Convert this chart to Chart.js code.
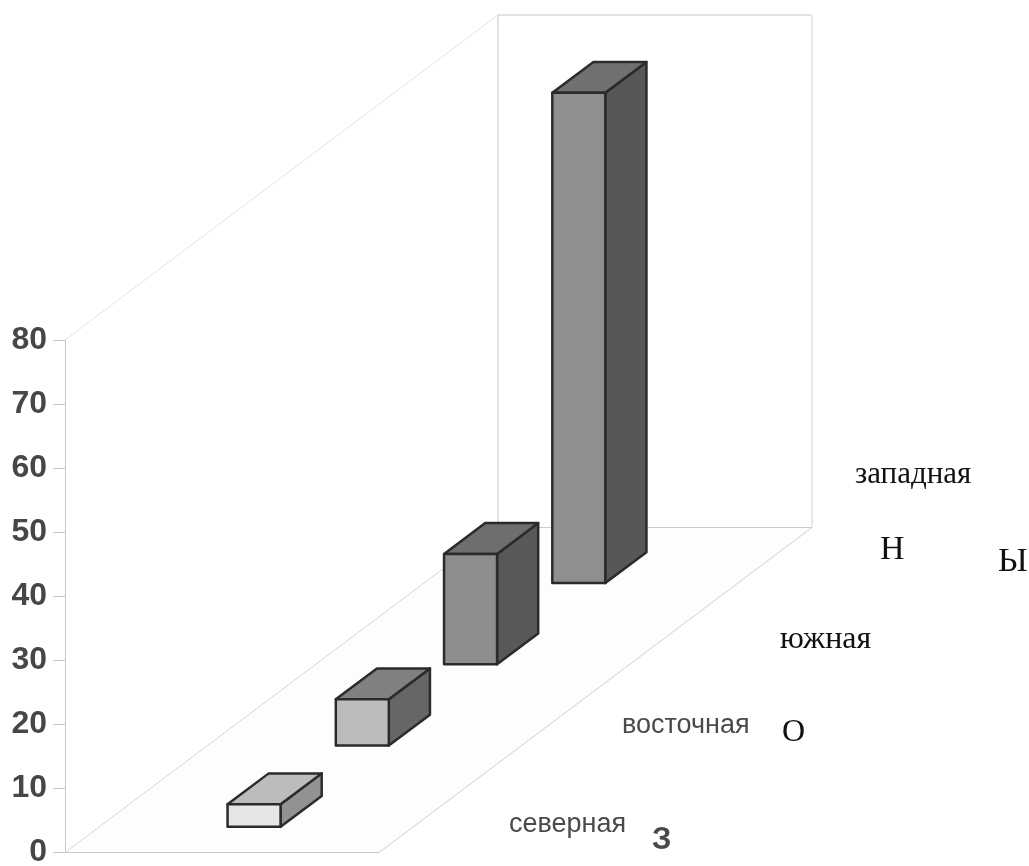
<!DOCTYPE html>
<html>
<head>
<meta charset="utf-8">
<style>
    html, body { margin: 0; padding: 0; background: #fff; }
    canvas { display: block; }
</style>
<script src="https://cdn.jsdelivr.net/npm/chart.js@4"></script>
</head>
<body>
<canvas id="c" width="1029" height="866"></canvas>
<script>
(function(){

    "use strict"

    // data
    const categories = ["северная", "восточная", "южная", "западная"];
    const values = [3.6, 7.3, 17.3, 76.6];
    const yTicks = [0, 10, 20, 30, 40, 50, 60, 70, 80];
    const axisLetters = ["З", "О", "Н", "Ы"];

    // face colours, front to back
    const frontColors = ["#e6e6e6", "#bcbcbc", "#8e8e8e", "#8f8f8f"];
    const topColors = ["#bcbcbc", "#808080", "#6e6e6e", "#707070"];
    const sideColors = ["#929292", "#666666", "#585858", "#575757"];

    // oblique projection: how far the floor runs and how the bars sit on it
    const floorWidth = 314;
    const barInset = 129;
    const barWidth = 53;
    const riseTotal = 325;

    // text that sits around the floor, same order as the arrays above
    const categorySpots = [
        { x: 509, y: 832, font: "27px 'Liberation Sans'", color: "#4a4a4a" },
        { x: 622, y: 733, font: "27px 'Liberation Sans'", color: "#4a4a4a" },
        { x: 780, y: 648, font: "32px 'Liberation Serif'", color: "#111" },
        { x: 855, y: 483, font: "31px 'Liberation Serif'", color: "#111" }
    ];
    const letterSpots = [
        { x: 652, y: 849, font: "bold 31px 'Liberation Sans'", color: "#4a4a4a" },
        { x: 782, y: 741, font: "32px 'Liberation Serif'", color: "#111" },
        { x: 880, y: 559, font: "34px 'Liberation Serif'", color: "#111" },
        { x: 998, y: 571, font: "34px 'Liberation Serif'", color: "#111" }
    ];

    function line(ctx, x1, y1, x2, y2, color) {
        ctx.strokeStyle = color;
        ctx.lineWidth = 1;
        ctx.beginPath();
        ctx.moveTo(x1, y1);
        ctx.lineTo(x2, y2);
        ctx.stroke();
    }

    function face(ctx, pts, fill) {
        ctx.fillStyle = fill;
        ctx.beginPath();
        pts.forEach(function(p, i) {
            if (i == 0) { ctx.moveTo(p[0], p[1]); }
            else { ctx.lineTo(p[0], p[1]); }
        });
        ctx.closePath();
        ctx.fill();
        ctx.stroke();
    }

    const oblique = {
        id: "oblique",

        // walls and floor
        beforeDatasetsDraw(chart) {
            const ctx = chart.ctx;
            const area = chart.chartArea;
            const y0 = chart.scales.y.getPixelForValue(0);
            const yMax = chart.scales.y.getPixelForValue(80);
            const dx = area.right - area.left;
            ctx.save();
            ctx.fillStyle = "#fdfdfd";
            ctx.beginPath();
            ctx.moveTo(area.left, y0);
            ctx.lineTo(area.left + floorWidth, y0);
            ctx.lineTo(area.right + floorWidth, y0 - riseTotal);
            ctx.lineTo(area.right, y0 - riseTotal);
            ctx.closePath();
            ctx.fill();

            line(ctx, area.left, yMax, area.right, yMax - riseTotal, "#e2e2e2");
            line(ctx, area.left, y0, area.right, y0 - riseTotal, "#d6d6d6");
            line(ctx, area.right, yMax - riseTotal, area.right, y0 - riseTotal, "#c4c4c4");
            line(ctx, area.right, yMax - riseTotal, area.right + floorWidth, yMax - riseTotal, "#c8c8c8");
            line(ctx, area.right + floorWidth, yMax - riseTotal, area.right + floorWidth, y0 - riseTotal, "#d4d4d4");
            line(ctx, area.right, y0 - riseTotal, area.right + floorWidth, y0 - riseTotal, "#cccccc");
            line(ctx, area.left + floorWidth, y0, area.left + floorWidth + dx, y0 - riseTotal, "#cfcfcf");
            line(ctx, area.left, y0, area.left + floorWidth, y0, "#c8c8c8");
            ctx.restore();
        },

        // bars: the library places them, then they get pushed back along the floor
        beforeDatasetDraw(chart, args) {
            const ctx = chart.ctx;
            const area = chart.chartArea;
            const slope = riseTotal / (area.right - area.left);
            const bars = args.meta.data;
            ctx.save();
            ctx.strokeStyle = "#2b2b2b";
            ctx.lineWidth = 2.5;
            ctx.lineJoin = "round";
            for (let i = bars.length - 1; i >= 0; i--) {
                const bar = bars[i];
                const depthX = bar.width;
                const depthY = depthX * slope;
                const back = bar.x - depthX / 2 - area.left;
                const left = area.left + back + barInset;
                const right = left + barWidth;
                const bottom = bar.base - back * slope;
                const top = bar.y - back * slope;

                face(ctx, [[right, top], [right + depthX, top - depthY], [right + depthX, bottom - depthY], [right, bottom]], sideColors[i]);
                face(ctx, [[left, top], [left + depthX, top - depthY], [right + depthX, top - depthY], [right, top]], topColors[i]);
                face(ctx, [[left, top], [right, top], [right, bottom], [left, bottom]], frontColors[i]);
            }
            ctx.restore();
            return false;
        },

        afterDraw(chart) {
            const ctx = chart.ctx;
            ctx.save();
            ctx.textAlign = "left";
            ctx.textBaseline = "alphabetic";
            categories.forEach(function(name, i) {
                ctx.font = categorySpots[i].font;
                ctx.fillStyle = categorySpots[i].color;
                ctx.fillText(name, categorySpots[i].x, categorySpots[i].y);
            });
            axisLetters.forEach(function(letter, i) {
                ctx.font = letterSpots[i].font;
                ctx.fillStyle = letterSpots[i].color;
                ctx.fillText(letter, letterSpots[i].x, letterSpots[i].y);
            });
            ctx.restore();
        }
    };

    new Chart(document.getElementById("c"), {
        type: "bar",
        data: {
            labels: categories,
            datasets: [{
                data: values,
                backgroundColor: frontColors,
                barPercentage: 0.38,
                categoryPercentage: 1
            }]
        },
        options: {
            responsive: false,
            animation: false,
            layout: {
                padding: { left: 0, right: 531, top: 340, bottom: 13.5 }
            },
            plugins: {
                legend: { display: false },
                tooltip: { enabled: false }
            },
            scales: {
                x: { display: false },
                y: {
                    min: 0,
                    max: 80,
                    // the tick labels may overhang the plot, so no room is reserved for them
                    afterFit(scale) {
                        scale.width = 65;
                        scale.paddingTop = 0;
                        scale.paddingBottom = 0;
                    },
                    afterBuildTicks(scale) { scale.ticks = yTicks.map(function(v) { return { value: v }; }); },
                    grid: { drawOnChartArea: false, color: "#c4c4c4", tickLength: 12 },
                    border: { color: "#c8c8c8" },
                    ticks: {
                        padding: 6,
                        color: "#474747",
                        font: { family: "'Liberation Sans'", size: 32, weight: "bold" }
                    }
                }
            }
        },
        plugins: [oblique]
    });

}());
</script>
</body>
</html>
